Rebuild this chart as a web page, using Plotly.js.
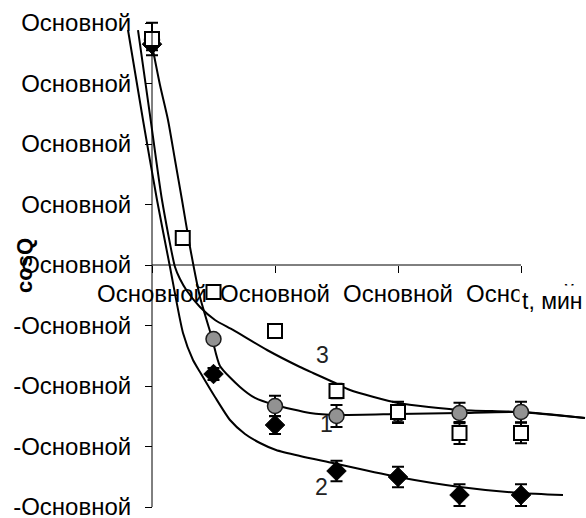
<!DOCTYPE html>
<html>
<head>
<meta charset="utf-8">
<script src="https://cdn.plot.ly/plotly-3.0.1.min.js"></script>
<style>
  html, body { margin: 0; padding: 0; background: #fff; }
  #chart { width: 586px; height: 518px; }
</style>
</head>
<body>
<div id="chart"></div>
<script>
// Measured points (t in minutes), one array per series
const tCircles  = [0, 5, 10, 15, 20, 25, 30];
const vCircles  = [3.72, -1.223, -2.331, -2.496, -2.463, -2.446, -2.430];
const eCircles  = [0, 0, 0.17, 0.18, 0.15, 0.17, 0.17];

const tDiamonds = [0, 5, 10, 15, 20, 25, 30];
const vDiamonds = [3.65, -1.802, -2.645, -3.405, -3.504, -3.802, -3.802];
const eDiamonds = [0.10, 0.10, 0.15, 0.17, 0.17, 0.18, 0.18];

const tSquares  = [0, 2.5, 5, 10, 15, 20, 25, 30];
const vSquares  = [3.736, 0.446, -0.446, -1.091, -2.083, -2.430, -2.777, -2.777];
const eSquares  = [0.27, 0, 0, 0, 0.12, 0.17, 0.18, 0.17];

// Smoothed trend curves
const tCurve1 = [0.081, 0.650, 1.301, 1.870, 2.439, 3.089, 3.902, 4.878, 5.528, 7.154, 8.374, 10.0, 12.846, 15.122, 20.0, 25.041, 30.0, 35.203];
const vCurve1 = [3.554, 2.975, 2.397, 1.736, 1.074, 0.298, -0.529, -1.207, -1.669, -2.017, -2.198, -2.314, -2.446, -2.479, -2.463, -2.446, -2.430, -2.529];

const tCurve2 = [-1.951, -0.732, 0.407, 1.463, 2.520, 3.333, 3.902, 5.122, 6.341, 7.561, 8.780, 10.081, 12.033, 14.715, 20.0, 25.041, 29.919, 33.415];
const vCurve2 = [3.884, 2.397, 1.074, -0.033, -1.124, -1.570, -1.769, -2.182, -2.562, -2.793, -2.942, -3.058, -3.157, -3.273, -3.504, -3.669, -3.769, -3.802];

const tCurve3 = [-1.138, -0.163, 0.813, 1.870, 2.276, 2.846, 3.902, 5.122, 6.585, 9.350, 12.033, 13.089, 14.715, 16.098, 20.0, 25.041, 29.919, 35.203];
const vCurve3 = [3.884, 2.479, 1.074, -0.033, -0.231, -0.430, -0.694, -0.909, -1.074, -1.405, -1.686, -1.785, -1.934, -2.066, -2.281, -2.397, -2.430, -2.529];

// Axis ticks and their (number-format) labels
const xTickVals = [0, 10, 20, 30];
const xTickText = ['Основной', 'Основной', 'Основной', 'Основной'];
const yTickVals = [-4, -3, -2, -1, 0, 1, 2, 3, 4];
const yTickText = ['-Основной', '-Основной', '-Основной', '-Основной', 'Основной',
                   'Основной', 'Основной', 'Основной', 'Основной'];

// Curve labels
const curveLabels = ['3', '1', '2'];
const curveLabelT = [13.90, 14.15, 13.82];
const curveLabelV = [-1.488, -2.628, -3.669];

const FONT = 'Liberation Sans, Arial, sans-serif';

function curve(x, y) {
  return { x: x, y: y, mode: 'lines', type: 'scatter', hoverinfo: 'skip',
           line: { color: '#000', width: 2, shape: 'spline', smoothing: 0.6 } };
}
function errs(arr) {
  return { type: 'data', array: arr, visible: true, color: '#000', thickness: 2, width: 6 };
}

const traces = [
  curve(tCurve1, vCurve1),
  curve(tCurve2, vCurve2),
  curve(tCurve3, vCurve3),
  { x: tCircles, y: vCircles, mode: 'markers', type: 'scatter', error_y: errs(eCircles),
    marker: { symbol: 'circle', size: 15, color: '#929292', line: { color: '#1a1a1a', width: 1.5 } } },
  { x: tDiamonds, y: vDiamonds, mode: 'markers', type: 'scatter', error_y: errs(eDiamonds),
    marker: { symbol: 'diamond', size: 15, color: '#000', line: { color: '#000', width: 1 } } },
  { x: tSquares, y: vSquares, mode: 'markers', type: 'scatter', error_y: errs(eSquares),
    marker: { symbol: 'square', size: 14, color: '#fff', line: { color: '#000', width: 2 } } }
];

const annotations = curveLabels.map((s, i) => ({
  x: curveLabelT[i], y: curveLabelV[i], xref: 'x', yref: 'y', text: s, showarrow: false,
  font: { family: FONT, size: 23, color: '#222' }
}));
annotations.push({
  x: 1, y: 0, xref: 'paper', yref: 'y', xanchor: 'right', yanchor: 'top', yshift: -20,
  text: 't, мин', showarrow: false, bgcolor: '#fff', borderpad: 2,
  font: { family: FONT, size: 23, color: '#000' }
});
annotations.push({
  x: -0.204, y: 0.495, xref: 'paper', yref: 'paper', xanchor: 'center', yanchor: 'middle',
  text: '<b>cosQ</b>', textangle: -90, showarrow: false,
  font: { family: FONT, size: 22, color: '#000' }
});

const layout = {
  width: 586, height: 518,
  margin: { l: 120, r: 0, t: 15, b: 8 },
  paper_bgcolor: '#fff', plot_bgcolor: '#fff',
  showlegend: false,
  font: { family: FONT, color: '#000' },
  xaxis: {
    range: [-2.6016, 35.2846], anchor: 'free', position: 0.49495,
    tickvals: xTickVals, ticktext: xTickText, ticks: 'outside', ticklen: 7, tickcolor: '#000',
    showgrid: false, zeroline: false, showline: false,
    ticklabeloverflow: 'allow',
    tickfont: { family: FONT, size: 24, color: '#000' }
  },
  yaxis: {
    range: [-4.0496, 4.1322], anchor: 'free', position: 0.06867,
    tickvals: yTickVals, ticktext: yTickText, ticks: 'outside', ticklen: 7, tickcolor: '#000',
    showgrid: false, zeroline: false, showline: false,
    ticklabeloverflow: 'allow', ticklabelstandoff: 9,
    tickfont: { family: FONT, size: 24, color: '#000' }
  },
  shapes: [
    { type: 'line', xref: 'x', yref: 'y', x0: 0, x1: 30, y0: 0, y1: 0, line: { color: '#000', width: 1 } },
    { type: 'line', xref: 'x', yref: 'y', x0: 0, x1: 0, y0: -4, y1: 4, line: { color: '#000', width: 1 } }
  ],
  annotations: annotations
};

Plotly.newPlot('chart', traces, layout, { staticPlot: true, displayModeBar: false });
</script>
</body>
</html>
